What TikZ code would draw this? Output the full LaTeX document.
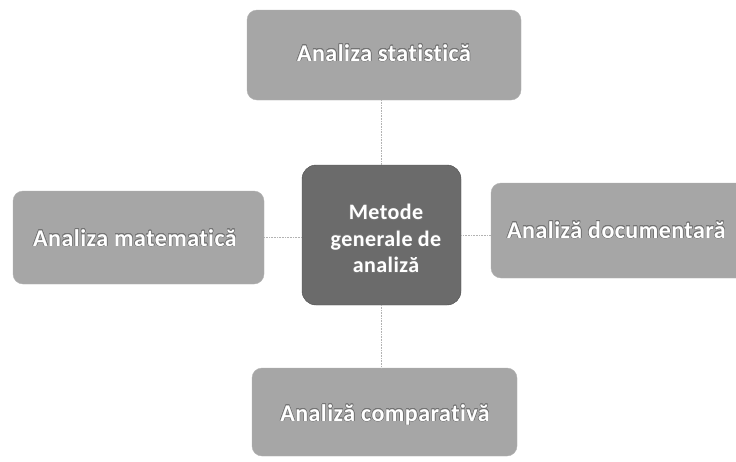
\documentclass[tikz,border=0pt]{standalone}
\usepackage{fontspec}
\setmainfont{Carlito}[Ligatures=NoCommon, LetterSpace=2]
\usepackage{contour}
\contourlength{0.5pt}
\newcommand{\otx}[1]{\contour{black!55}{#1}}
\begin{document}
\begin{tikzpicture}[x=1pt,y=-1pt,
  side/.style={draw=gray!60, fill=black!35, rounded corners=10pt},
  lbl/.style={text=white, font=\bfseries\fontsize{24}{26}\selectfont, inner sep=0pt},
  hub/.style={draw=black!70, fill=black!58, rounded corners=14pt},
  link/.style={draw=gray!60, densely dotted, line width=0.6pt}]
\useasboundingbox (0,0) rectangle (736,461);
\clip (0,0) rectangle (736,461);
% boxes
\node[hub, minimum width=159pt, minimum height=140pt] (c) at (381.5,235) {};
\node[side, minimum width=274pt, minimum height=90pt] (t) at (384,55) {};
\node[side, minimum width=251pt, minimum height=93pt] (l) at (138.5,237.5) {};
\node[side, minimum width=256pt, minimum height=95pt] (r) at (619,230.5) {};
\node[side, minimum width=265pt, minimum height=88pt] (b) at (384.5,412) {};
% labels
\node[text=white, font=\bfseries\fontsize{22}{26.5}\selectfont, align=center, inner sep=0pt] (ct) at (386,239) {\otx{Metode}\\\otx{generale de}\\\otx{analiză}};
\node[lbl] (tt) at (384,53) {\otx{Analiza statistică}};
\node[lbl, anchor=west] (lt) at (33,238) {\otx{Analiza matematică}};
\node[lbl, anchor=west] (rt) at (507,230) {\otx{Analiză documentară}};
\node[lbl] (bt) at (385,415) {\otx{Analiză comparativă}};
% connectors
\draw[link] (t.south -| c.north) -- (c.north);
\draw[link] (c.south) -- (b.north -| c.south);
\draw[link] (l.east |- 0,237) -- (c.west |- 0,237);
\draw[link] (r.west |- 0,235) -- (c.east |- 0,235);
\end{tikzpicture}
\end{document}
